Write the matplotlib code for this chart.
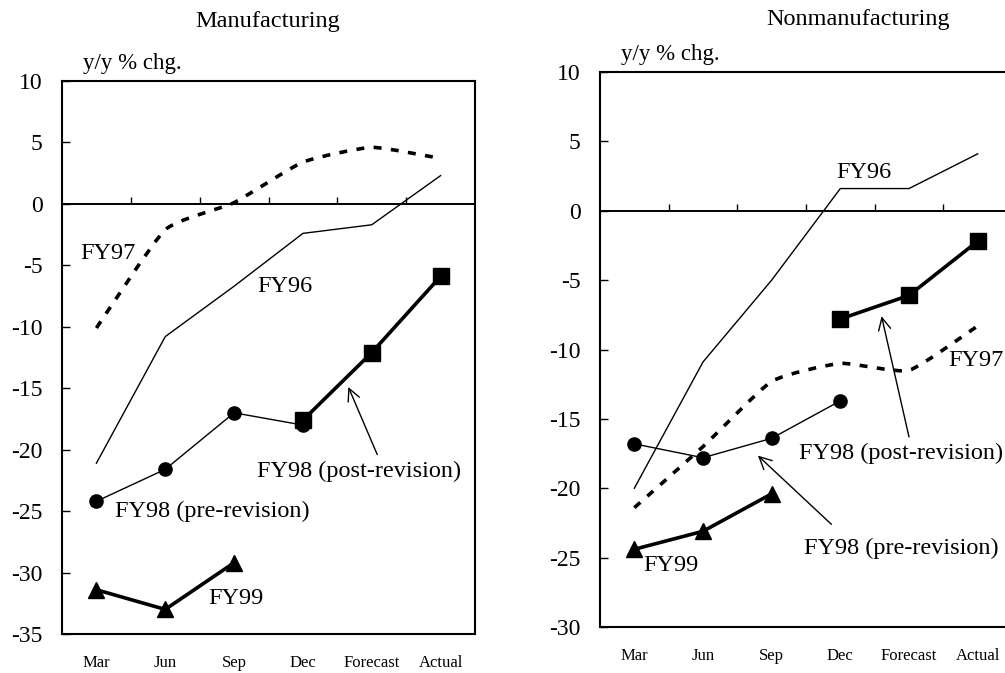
#!/usr/bin/env python3
"""Manufacturing / nonmanufacturing y/y % chg. panels, FY96-FY99 revisions."""
import numpy as np
import matplotlib
matplotlib.use("Agg")
import matplotlib.pyplot as plt
from matplotlib.path import Path
from matplotlib.patches import PathPatch

plt.rcParams["font.family"] = ["Liberation Serif", "DejaVu Serif"]
plt.rcParams["axes.unicode_minus"] = False

CATS = ["Mar", "Jun", "Sep", "Dec", "Forecast", "Actual"]

# Manufacturing (y/y % chg.)
MFG_FY96 = [-21.1, -10.8, -6.7, -2.4, -1.7, 2.3]
MFG_FY97 = [-10.1, -2.1, 0.1, 3.4, 4.6, 3.7]
MFG_FY98_PRE = [-24.2, -21.6, -17.0, -18.0]      # Mar..Dec
MFG_FY98_POST = [-17.6, -12.1, -5.9]             # Dec..Actual
MFG_FY99 = [-31.4, -33.0, -29.2]                 # Mar..Sep

# Nonmanufacturing
NON_FY96 = [-20.0, -10.9, -5.0, 1.6, 1.6, 4.1]
NON_FY97 = [-21.4, -17.0, -12.3, -11.0, -11.5, -8.3]
NON_FY98_PRE = [-16.8, -17.8, -16.4, -13.7]
NON_FY98_POST = [-7.8, -6.1, -2.2]
NON_FY99 = [-24.4, -23.1, -20.4]

THIN, THICK = 1.0, 2.6
TENSION = 1 / 12   # mild Excel-like smoothing


def smooth_line(ax, y, **kw):
    """Smoothed line: cubic Bezier segments through the data points."""
    x = np.arange(len(y), dtype=float)
    y = np.asarray(y, dtype=float)
    px = np.concatenate([[x[0]], x, [x[-1]]])
    py = np.concatenate([[y[0]], y, [y[-1]]])
    verts = [(x[0], y[0])]
    codes = [Path.MOVETO]
    for i in range(len(x) - 1):
        c1 = (x[i] + (px[i + 2] - px[i]) * TENSION,
              y[i] + (py[i + 2] - py[i]) * TENSION)
        c2 = (x[i + 1] - (px[i + 3] - px[i + 1]) * TENSION,
              y[i + 1] - (py[i + 3] - py[i + 1]) * TENSION)
        verts += [c1, c2, (x[i + 1], y[i + 1])]
        codes += [Path.CURVE4] * 3
    ax.add_patch(PathPatch(Path(verts, codes), fill=False, **kw))


def panel(ax, fy96, fy97, pre, post, fy99, ylim):
    x = np.arange(len(CATS))
    ax.plot(x, fy96, "-", color="black", lw=THIN)
    smooth_line(ax, fy97, color="black", lw=THICK, linestyle=(0, (2.2, 2.6)),
                capstyle="butt")
    ax.plot(x[:len(pre)], pre, "-o", color="black", lw=THIN, ms=9.5)
    ax.plot(x[3:3 + len(post)], post, "-s", color="black", lw=THICK, ms=11)
    ax.plot(x[:len(fy99)], fy99, "-^", color="black", lw=THICK, ms=11)

    ax.set_xlim(-0.5, 5.5)
    ax.set_ylim(*ylim)
    ax.set_yticks(np.arange(ylim[0], ylim[1] + 1, 5))
    ax.tick_params(axis="y", direction="in", length=6, width=1, pad=14,
                   labelsize=17)
    ax.set_xticks(x)
    ax.set_xticklabels(CATS)
    ax.tick_params(axis="x", length=0, pad=15, labelsize=12)
    for s in ax.spines.values():
        s.set_linewidth(1.5)

    # zero line with category-boundary ticks
    zero = ax.secondary_xaxis(0, transform=ax.transData)
    zero.set_xticks(np.arange(0.5, 5.5, 1.0))
    zero.tick_params(direction="in", length=5, width=1, labelbottom=False)
    zero.spines["bottom"].set_linewidth(1.4)
    ax.text(0.05, 1.012, "y/y % chg.", transform=ax.transAxes, fontsize=16.5,
            ha="left", va="bottom")


fig = plt.figure(figsize=(10.05, 6.73), dpi=100)
W, H = 1005, 673

ax1 = fig.add_axes([62 / W, (H - 634) / H, 413 / W, 553 / H])
panel(ax1, MFG_FY96, MFG_FY97, MFG_FY98_PRE, MFG_FY98_POST, MFG_FY99, (-35, 10))
fig.text(268 / W, 1 - 22 / H, "Manufacturing", ha="center", va="center",
         fontsize=17.5)
lab = dict(fontsize=17.5, ha="left", va="center")
ax1.text(-0.24, -4.0, "FY97", **lab)
ax1.text(2.33, -6.75, "FY96", **lab)
ax1.text(2.33, -21.8, "FY98 (post-revision)", **lab)
ax1.text(0.27, -25.0, "FY98 (pre-revision)", **lab)
ax1.text(1.62, -32.1, "FY99", **lab)
ax1.annotate("", xy=(3.66, -14.9), xytext=(4.08, -20.4),
             arrowprops=dict(arrowstyle="->", color="black", lw=1.0,
                             mutation_scale=22, shrinkA=0, shrinkB=0))

ax2 = fig.add_axes([600 / W, (H - 627) / H, 412 / W, 555 / H])
panel(ax2, NON_FY96, NON_FY97, NON_FY98_PRE, NON_FY98_POST, NON_FY99, (-30, 10))
fig.text(858 / W, 1 - 20 / H, "Nonmanufacturing", ha="center", va="center",
         fontsize=17.5)
ax2.text(2.94, 2.74, "FY96", **lab)
ax2.text(4.57, -10.8, "FY97", clip_on=False, **lab)
ax2.text(2.40, -17.5, "FY98 (post-revision)", **lab)
ax2.text(2.47, -24.3, "FY98 (pre-revision)", **lab)
ax2.text(0.13, -25.6, "FY99", **lab)
ax2.annotate("", xy=(3.6, -7.6), xytext=(4.0, -16.3),
             arrowprops=dict(arrowstyle="->", color="black", lw=1.0,
                             mutation_scale=22, shrinkA=0, shrinkB=0))
ax2.annotate("", xy=(1.80, -17.65), xytext=(2.87, -22.6),
             arrowprops=dict(arrowstyle="->", color="black", lw=1.0,
                             mutation_scale=22, shrinkA=0, shrinkB=0))

fig.savefig("out.png", dpi=100)
